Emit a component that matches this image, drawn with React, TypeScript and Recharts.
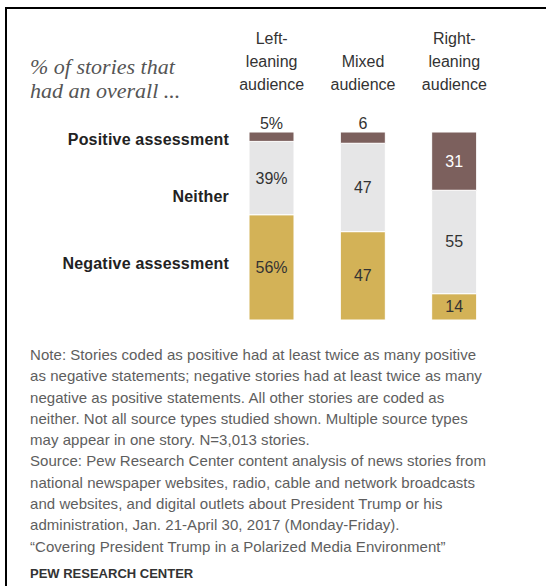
import { BarChart, Bar, XAxis, YAxis, LabelList } from 'recharts';

// audiences across the top
const audiences = ['Left-\nleaning\naudience', 'Mixed\naudience', 'Right-\nleaning\naudience'];

// % of stories per audience
const positive = [5, 6, 31];
const neither = [39, 47, 55];
const negative = [56, 47, 14];

const rowLabels = ['Positive assessment', 'Neither', 'Negative assessment'];

const noteLines = [
  'Note: Stories coded as positive had at least twice as many positive',
  'as negative statements; negative stories had at least twice as many',
  'negative as positive statements. All other stories are coded as',
  'neither. Not all source types studied shown. Multiple source types',
  'may appear in one story. N=3,013 stories.',
  'Source: Pew Research Center content analysis of news stories from',
  'national newspaper websites, radio, cable and network broadcasts',
  'and websites, and digital outlets about President Trump or his',
  'administration, Jan. 21-April 30, 2017 (Monday-Friday).',
  '\u201cCovering President Trump in a Polarized Media Environment\u201d',
];

const data = audiences.map((name, i) => ({
  name,
  positive: positive[i],
  neither: neither[i],
  negative: negative[i],
}));

const SANS = '"Liberation Sans", Arial, sans-serif';
const POS = '#7c605d';
const NEI = '#e6e6e7';
const NEG = '#d3b257';

const HeaderTick = (props: any) => {
  const { x, y, payload } = props;
  const lines = String(payload.value).split('\n');
  const n = lines.length;
  return (
    <text x={x} textAnchor="middle" fontFamily={SANS} fontSize={16} fill="#333">
      {lines.map((l, i) => (
        <tspan key={i} x={x} y={y - 42 - (n - 1 - i) * 23}>
          {l}
        </tspan>
      ))}
    </text>
  );
};

const makeLabel = (onDark: boolean, above: boolean) => (props: any) => {
  const vb = props.viewBox ?? props;
  const x = Number(vb.x);
  const y = Number(vb.y);
  const w = Number(vb.width);
  const h = Number(vb.height);
  const v = props.value;
  const txt = `${v}${props.index === 0 ? '%' : ''}`;
  if (above && v < 10) {
    return (
      <text x={x + w / 2} y={y - 3} textAnchor="middle" fontFamily={SANS} fontSize={16} fill="#333">
        {txt}
      </text>
    );
  }
  return (
    <text
      x={x + w / 2}
      y={y + h / 2}
      dominantBaseline="central"
      textAnchor="middle"
      fontFamily={SANS}
      fontSize={16}
      fill={onDark ? '#fff' : '#333'}
    >
      {txt}
    </text>
  );
};

export default function App() {
  return (
    <div style={{ position: 'absolute', left: 0, top: 0, width: 546, height: 586, background: '#fff', overflow: 'hidden' }}>
      <div style={{ position: 'absolute', left: 5, top: 7, width: 541, height: 579, borderTop: '2px solid #000', borderLeft: '2px solid #000' }} />

      <div
        style={{
          position: 'absolute',
          left: 30,
          top: 55,
          fontFamily: '"Liberation Serif", "DejaVu Serif", serif',
          fontStyle: 'italic',
          fontSize: 22,
          lineHeight: '24px',
          color: '#555',
          whiteSpace: 'nowrap',
        }}
      >
        % of stories that
        <br />
        had an overall ...
      </div>

      {rowLabels.map((t, i) => (
        <div
          key={t}
          style={{
            position: 'absolute',
            right: 546 - 229,
            top: [129, 186, 253][i],
            fontFamily: SANS,
            fontWeight: 'bold',
            fontSize: 16,
            lineHeight: '21px',
            letterSpacing: 0.2,
            color: '#222',
            whiteSpace: 'nowrap',
          }}
        >
          {t}
        </div>
      ))}

      <div style={{ position: 'absolute', left: 0, top: 0 }}>
        <BarChart width={546} height={586} data={data} margin={{ top: 102, right: 46, bottom: 266, left: 226 }}>
          <XAxis
            dataKey="name"
            orientation="top"
            height={30}
            axisLine={false}
            tickLine={false}
            tickSize={0}
            tickMargin={0}
            interval={0}
            tick={<HeaderTick />}
          />
          <YAxis hide domain={[0, 100]} />
          <Bar dataKey="negative" stackId="a" fill={NEG} stroke="#fff" strokeWidth={1} barSize={45} isAnimationActive={false}>
            <LabelList dataKey="negative" content={makeLabel(false, false)} />
          </Bar>
          <Bar dataKey="neither" stackId="a" fill={NEI} stroke="#fff" strokeWidth={1} barSize={45} isAnimationActive={false}>
            <LabelList dataKey="neither" content={makeLabel(false, false)} />
          </Bar>
          <Bar dataKey="positive" stackId="a" fill={POS} stroke="#fff" strokeWidth={1} barSize={45} isAnimationActive={false}>
            <LabelList dataKey="positive" content={makeLabel(true, true)} />
          </Bar>
        </BarChart>
      </div>

      <div
        style={{
          position: 'absolute',
          left: 30,
          top: 344,
          fontFamily: SANS,
          fontSize: 15,
          lineHeight: '21.3px',
          letterSpacing: 0.05,
          color: '#5e5e5e',
          whiteSpace: 'nowrap',
        }}
      >
        {noteLines.map((l, i) => (
          <div key={i}>{l}</div>
        ))}
      </div>

      <div
        style={{
          position: 'absolute',
          left: 30,
          top: 566,
          fontFamily: SANS,
          fontWeight: 'bold',
          fontSize: 13,
          color: '#333',
          whiteSpace: 'nowrap',
        }}
      >
        PEW RESEARCH CENTER
      </div>
    </div>
  );
}
